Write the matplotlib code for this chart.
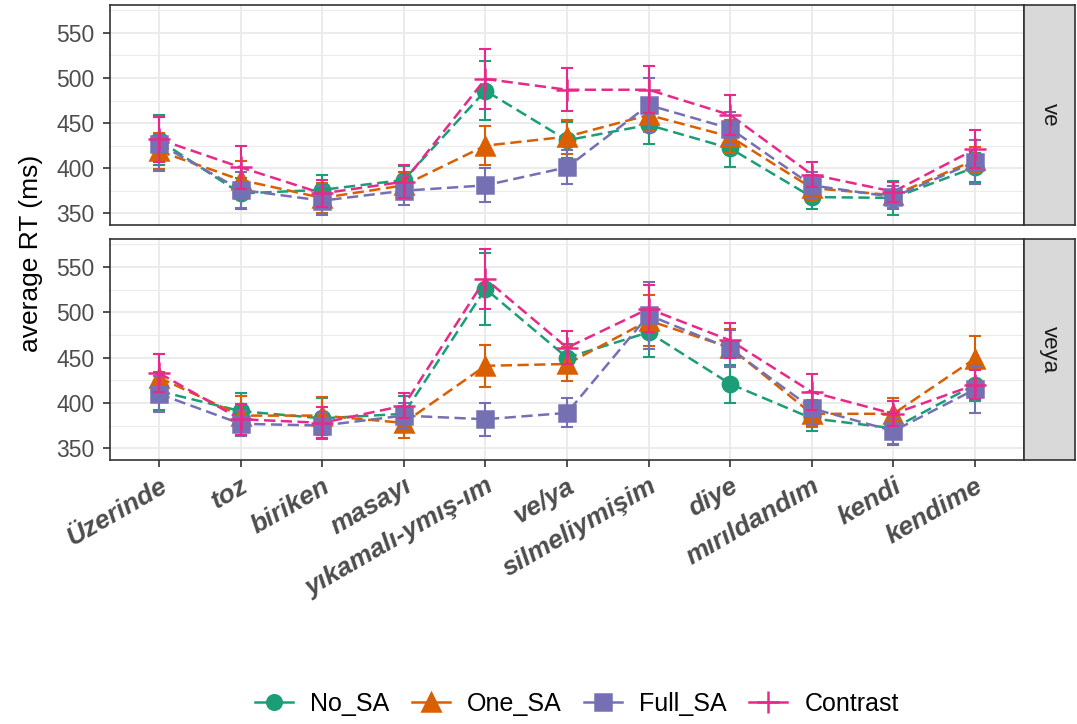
import matplotlib
matplotlib.use('Agg')
import matplotlib.pyplot as plt
from matplotlib.lines import Line2D
import numpy as np

plt.rcParams['font.family'] = ['Liberation Sans', 'DejaVu Sans']

# Word regions on the x axis
words = ["Üzerinde", "toz", "biriken", "masayı", "yıkamalı-ymış-ım", "ve/ya",
         "silmeliymişim", "diye", "mırıldandım", "kendi", "kendime"]
conditions = ["No_SA", "One_SA", "Full_SA", "Contrast"]
panels = ["ve", "veya"]

# Mean RTs (ms) and standard errors, "ve" panel
ve_no_sa = [431, 372, 376, 387, 486, 431, 448, 422, 368, 367, 401]
ve_no_sa_se = [28, 17, 17, 15, 33, 20, 21, 21, 13, 19, 16]
ve_one_sa = [419, 387, 367, 381, 425, 435, 459, 435, 378, 370, 409]
ve_one_sa_se = [20, 21, 17, 15, 22, 19, 18, 18, 14, 15, 14]
ve_full_sa = [427, 376, 364, 375, 381, 401, 470, 444, 381, 368, 407]
ve_full_sa_se = [30, 20, 16, 16, 19, 19, 30, 18, 15, 12, 24]
ve_contrast = [432, 401, 372, 385, 499, 487, 487, 459, 393, 374, 421]
ve_contrast_se = [25, 24, 15, 18, 33, 24, 26, 22, 14, 11, 21]

# Mean RTs (ms) and standard errors, "veya" panel
veya_no_sa = [413, 391, 383, 388, 526, 450, 478, 421, 383, 372, 420]
veya_no_sa_se = [21, 20, 23, 20, 40, 15, 27, 21, 14, 18, 18]
veya_one_sa = [428, 386, 386, 378, 441, 443, 491, 461, 388, 388, 449]
veya_one_sa_se = [26, 22, 21, 17, 23, 19, 28, 21, 15, 18, 25]
veya_full_sa = [410, 377, 375, 386, 382, 389, 497, 460, 394, 369, 415]
veya_full_sa_se = [20, 14, 14, 14, 18, 16, 37, 20, 18, 14, 26]
veya_contrast = [433, 382, 378, 397, 537, 461, 504, 469, 412, 388, 420]
veya_contrast_se = [21, 17, 17, 14, 33, 18, 26, 19, 20, 14, 16]

means = {
    "ve": [ve_no_sa, ve_one_sa, ve_full_sa, ve_contrast],
    "veya": [veya_no_sa, veya_one_sa, veya_full_sa, veya_contrast],
}
errors = {
    "ve": [ve_no_sa_se, ve_one_sa_se, ve_full_sa_se, ve_contrast_se],
    "veya": [veya_no_sa_se, veya_one_sa_se, veya_full_sa_se, veya_contrast_se],
}

COLORS = ['#1B9E77', '#D95F02', '#7570B3', '#E7298A']
MARKERS = ['o', '^', 's', '+']
MSIZE = [11, 13, 11.5, 16]
GRID = '#EBEBEB'
BORDER = '#333333'
TICK_TEXT = '#4D4D4D'
DASH = (0, (4.5, 2.2))

W, H = 1077, 724
fig = plt.figure(figsize=(W / 100, H / 100), dpi=100, facecolor='white')


def fx(px):
    return px / W


def fy(py):
    return 1 - py / H


panel_l, panel_r, strip_r = 110, 1024, 1075
boxes = [(5, 225), (239, 460)]
x = np.arange(len(words))

axes = []
for (top, bot), name in zip(boxes, panels):
    ax = fig.add_axes([fx(panel_l), fy(bot), fx(panel_r - panel_l), (bot - top) / H])
    ax.set_xlim(-0.6, len(words) - 0.4)
    ax.set_ylim(337, 581)
    ax.set_xticks(x)
    ax.set_yticks([350, 400, 450, 500, 550])
    ax.set_yticks([375, 425, 475, 525, 575], minor=True)
    ax.grid(True, which='major', color=GRID, linewidth=1.4)
    ax.grid(True, which='minor', axis='y', color=GRID, linewidth=0.8)
    ax.set_axisbelow(True)
    for s in ax.spines.values():
        s.set_color(BORDER)
        s.set_linewidth(1.2)
    ax.tick_params(axis='y', which='major', labelsize=16.5, labelcolor=TICK_TEXT,
                   color=BORDER, length=5, width=1.2, pad=6)
    ax.tick_params(axis='y', which='minor', length=0)

    for i, cond in enumerate(conditions):
        ax.plot(x, means[name][i], linestyle=DASH, color=COLORS[i],
                linewidth=1.8, zorder=2 + i)
        ax.errorbar(x, means[name][i], yerr=errors[name][i], fmt='none',
                    ecolor=COLORS[i], elinewidth=1.5, capsize=4.5, capthick=1.5,
                    zorder=3 + i)
        ax.plot(x, means[name][i], linestyle='none', marker=MARKERS[i],
                markersize=MSIZE[i], color=COLORS[i], markeredgewidth=1.8,
                zorder=4 + i)

    # facet strip on the right
    sax = fig.add_axes([fx(panel_r), fy(bot), fx(strip_r - panel_r), (bot - top) / H])
    sax.set_facecolor('#D9D9D9')
    sax.set_xticks([])
    sax.set_yticks([])
    for s in sax.spines.values():
        s.set_color(BORDER)
        s.set_linewidth(1.2)
    sax.text(0.5, 0.5, name, rotation=-90, ha='center', va='center',
             fontsize=16, color='#1A1A1A', transform=sax.transAxes)
    axes.append(ax)

top_ax, bot_ax = axes
top_ax.tick_params(axis='x', length=0, labelbottom=False)
bot_ax.tick_params(axis='x', color=BORDER, length=5, width=1.2, pad=5)
bot_ax.set_xticklabels(words, rotation=30, ha='right', va='top',
                       rotation_mode='anchor', fontsize=19, fontweight='bold',
                       fontstyle='italic', color=TICK_TEXT)

fig.text(fx(31), fy(253), "average RT (ms)", rotation=90, ha='center',
         va='center', fontsize=19, color='black')

handles = [Line2D([0], [0], color=COLORS[i], marker=MARKERS[i], linewidth=1.8,
                  markersize=MSIZE[i] * 0.95, markeredgewidth=1.8)
           for i in range(len(conditions))]
fig.legend(handles, conditions, loc='center', bbox_to_anchor=(fx(577), fy(704)),
           ncol=4, frameon=False, fontsize=18, handlelength=1.5,
           columnspacing=0.9, handletextpad=0.7)

fig.savefig('out.png', dpi=100, facecolor='white')
